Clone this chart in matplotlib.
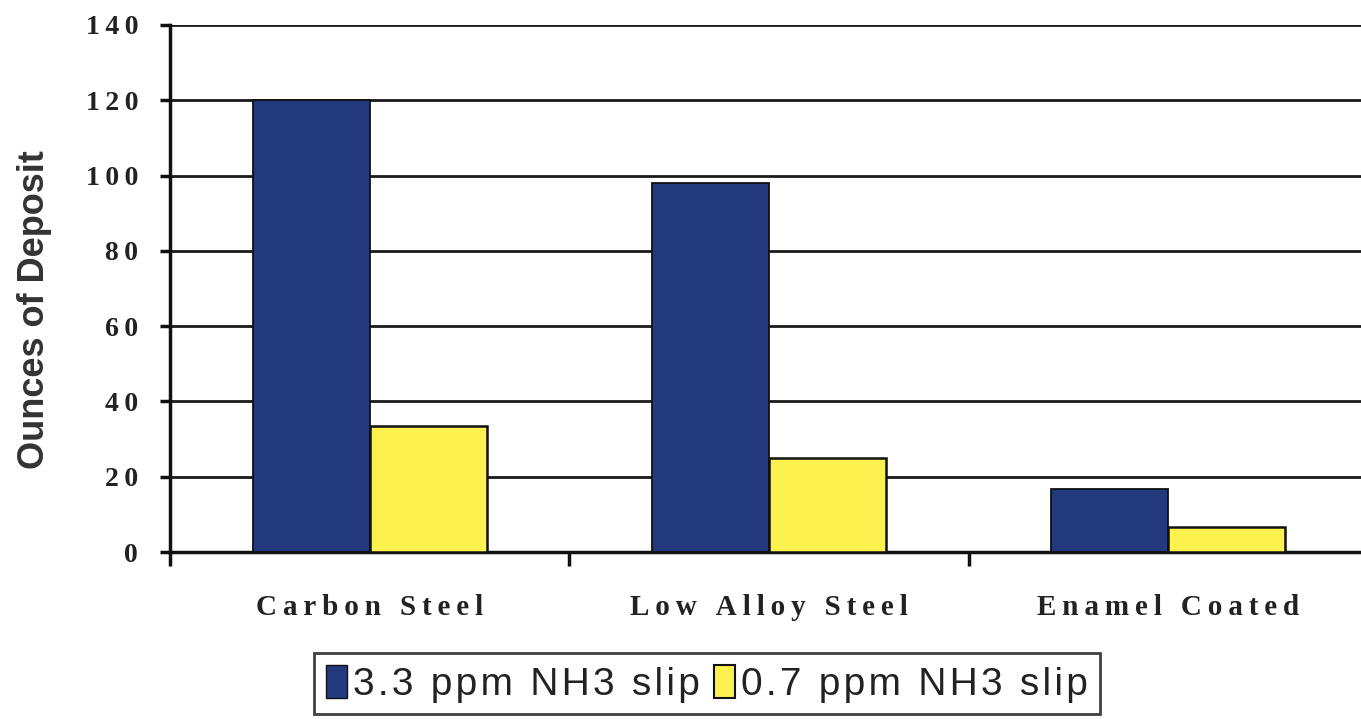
import numpy as np
import matplotlib.pyplot as plt
from matplotlib.patches import Patch

categories = ["Carbon Steel", "Low Alloy Steel", "Enamel Coated"]
high_slip = [120, 98, 16.7]    # 3.3 ppm NH3 slip
low_slip = [33.4, 25, 6.6]     # 0.7 ppm NH3 slip
series_names = ["3.3 ppm NH3 slip", "0.7 ppm NH3 slip"]
yticks = [0, 20, 40, 60, 80, 100, 120, 140]

blue = "#22397e"
yellow = "#fdf14f"
sp = "\u2009"  # letter spacing like the scanned original
hair = "\u200a"

fig = plt.figure(figsize=(13.61, 7.19), dpi=100)
ax = fig.add_axes([170 / 1361, 1 - 552 / 719, 1198 / 1361, 527 / 719])

x = np.arange(len(categories))
w = 0.293
ax.bar(x - w / 2, high_slip, w, color=blue, edgecolor="#111111", linewidth=1.3, zorder=3)
ax.bar(x + w / 2, low_slip, w, color=yellow, edgecolor="#111111", linewidth=1.8, zorder=3)

ax.set_xlim(-0.5, 2.5)
ax.set_ylim(0, 140)
ax.set_yticks(yticks)
ax.set_yticklabels([sp.join(str(v)) for v in yticks], fontfamily="Liberation Serif",
                   fontweight="bold", fontsize=20, color="#222222")
ax.yaxis.grid(True, color="#1a1a1a", linewidth=2.0, zorder=0)
ax.set_axisbelow(True)

ax.set_xticks(x)
ax.set_xticklabels([sp.join(c) for c in categories], fontfamily="Liberation Serif",
                   fontweight="bold", fontsize=21, color="#222222")
ax.set_xticks([-0.5, 0.5, 1.5, 2.5], minor=True)
ax.tick_params(axis="x", which="major", length=0, pad=30)
ax.tick_params(axis="x", which="minor", length=10, width=2.5, color="#111111")
ax.tick_params(axis="y", length=7, width=2.5, color="#111111", pad=16)

for s in ["top", "right"]:
    ax.spines[s].set_visible(False)
for s in ["left", "bottom"]:
    ax.spines[s].set_linewidth(2.5)
    ax.spines[s].set_color("#111111")

fig.text(35 / 1361, 1 - 310 / 719, "Ounces of Deposit", rotation=90, ha="center", va="center",
         fontfamily="Liberation Sans", fontweight="bold", fontsize=26, color="#333333")

handles = [Patch(facecolor=blue, edgecolor="#111111", linewidth=1.0),
           Patch(facecolor=yellow, edgecolor="#111111", linewidth=1.5)]
leg = fig.legend(handles, [hair.join(list(n)) for n in series_names], loc="upper center",
                 bbox_to_anchor=(707 / 1361, 1 - 653 / 719),
                 ncol=2, frameon=True, fancybox=False, edgecolor="#111111",
                 prop={"family": "Liberation Sans", "size": 28},
                 handlelength=0.55, handleheight=0.95, handletextpad=0.15, columnspacing=0.35,
                 borderpad=0.3, borderaxespad=0)
leg.get_frame().set_linewidth(2.0)
for t in leg.get_texts():
    t.set_color("#222222")

fig.savefig("out.png", dpi=100)
